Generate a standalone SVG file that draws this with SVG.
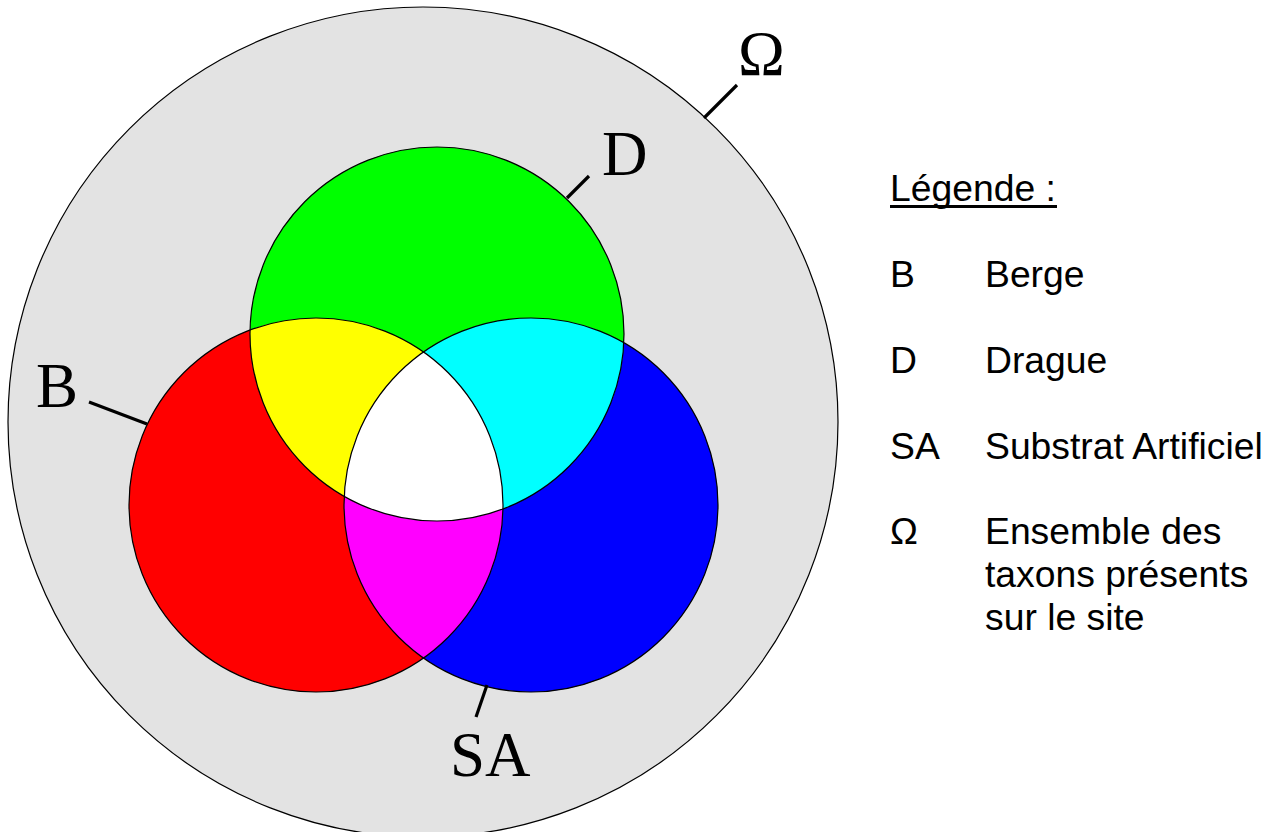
<svg xmlns="http://www.w3.org/2000/svg" width="1276" height="832" viewBox="0 0 1276 832">
<style>
.lbl{font-family:"Liberation Serif","Times New Roman",serif;font-size:63px;fill:#000}
.leg{font-family:"Liberation Sans",Arial,sans-serif;font-size:37.3px;fill:#000}
.edge{fill:none;stroke:#000;stroke-width:1.2}
.lead{stroke:#000;stroke-width:3.2;stroke-linecap:butt}
</style>
<defs>
<clipPath id="cR"><circle cx="316" cy="505" r="187"/></clipPath>
<clipPath id="cB"><circle cx="531" cy="505" r="187"/></clipPath>
</defs>
<rect width="1276" height="832" fill="#fff"/>
<g id="omega">
<circle cx="423" cy="422" r="415" fill="#e3e3e3" stroke="#000" stroke-width="1.2"/>
<text class="lbl" x="738" y="75">Ω</text>
</g>
<g id="set-B">
<circle cx="316" cy="505" r="187" fill="#ff0000"/>
<text class="lbl" x="36" y="407">B</text>
</g>
<g id="set-SA">
<circle cx="531" cy="505" r="187" fill="#0000ff"/>
<text class="lbl" x="450" y="776">SA</text>
</g>
<g id="set-D">
<circle cx="437" cy="334" r="187" fill="#00ff00"/>
<text class="lbl" x="602" y="175">D</text>
</g>
<g id="overlaps">
<circle cx="437" cy="334" r="187" fill="#ffff00" clip-path="url(#cR)"/>
<circle cx="437" cy="334" r="187" fill="#00ffff" clip-path="url(#cB)"/>
<circle cx="531" cy="505" r="187" fill="#ff00ff" clip-path="url(#cR)"/>
<g clip-path="url(#cR)"><circle cx="437" cy="334" r="187" fill="#ffffff" clip-path="url(#cB)"/></g>
<circle class="edge" cx="316" cy="505" r="187"/>
<circle class="edge" cx="531" cy="505" r="187"/>
<circle class="edge" cx="437" cy="334" r="187"/>
</g>
<g id="connectors">
<line class="lead" x1="737" y1="85" x2="704" y2="118"/>
<line class="lead" x1="589" y1="176" x2="567" y2="198"/>
<line class="lead" x1="89" y1="402" x2="147" y2="424"/>
<line class="lead" x1="487" y1="685" x2="476" y2="717"/>
</g>
<g id="legend">
<text class="leg" x="890" y="201">Légende :</text>
<rect x="890" y="205" width="167" height="3" fill="#000"/>
<text class="leg" x="890" y="287">B</text>
<text class="leg" x="985" y="287">Berge</text>
<text class="leg" x="890" y="373">D</text>
<text class="leg" x="985" y="373">Drague</text>
<text class="leg" x="890" y="459">SA</text>
<text class="leg" x="985" y="459">Substrat Artificiel</text>
<text class="leg" x="890" y="544">Ω</text>
<text class="leg" x="985" y="544">Ensemble des</text>
<text class="leg" x="985" y="587">taxons présents</text>
<text class="leg" x="985" y="630">sur le site</text>
</g>
</svg>
